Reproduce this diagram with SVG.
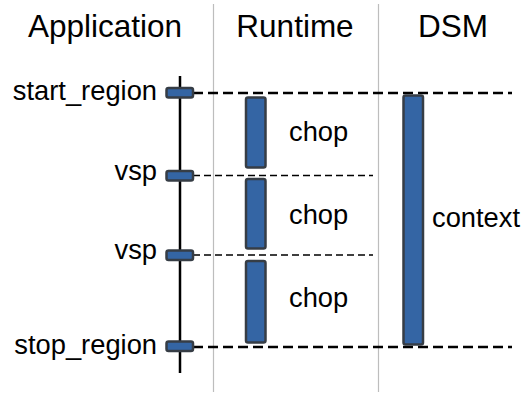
<svg xmlns="http://www.w3.org/2000/svg" width="526" height="394" viewBox="0 0 526 394">
  <style>
    text { font-family: "Liberation Sans", Arial, Helvetica, sans-serif; fill: #000; }
    .head { font-size: 31.5px; text-anchor: middle; }
    .lbl { font-size: 27.3px; }
    .end { text-anchor: end; }
    .sep { stroke: #bdbdbd; stroke-width: 1.2; fill: none; }
    .life { stroke: #000; stroke-width: 2.5; fill: none; }
    .act { fill: #3465a4; stroke: #363d45; stroke-width: 2.5; }
    .dash-major { stroke: #000; stroke-width: 2.6; stroke-dasharray: 10 5; fill: none; }
    .dash-minor { stroke: #000; stroke-width: 1.5; stroke-dasharray: 7 4; fill: none; }
  </style>

  <!-- column separators -->
  <g id="separators">
    <line class="sep" x1="213.5" y1="4" x2="213.5" y2="392"/>
    <line class="sep" x1="378.5" y1="4" x2="378.5" y2="392"/>
  </g>

  <!-- column headings -->
  <g id="headings">
    <text class="head" x="105" y="37">Application</text>
    <text class="head" x="295" y="37">Runtime</text>
    <text class="head" x="453" y="37">DSM</text>
  </g>

  <!-- dashed connectors -->
  <g id="connectors">
    <line class="dash-major" x1="193" y1="93" x2="512" y2="93"/>
    <line class="dash-minor" x1="193" y1="175.5" x2="373" y2="175.5"/>
    <line class="dash-minor" x1="193" y1="255" x2="373" y2="255"/>
    <line class="dash-major" x1="193" y1="347" x2="512" y2="347"/>
  </g>

  <!-- application lifeline and its calls -->
  <g id="application">
    <line class="life" x1="180" y1="76" x2="180" y2="373"/>
  </g>
  <g id="start_region">
    <rect class="act" x="166.5" y="88" width="26.5" height="9.5" rx="2"/>
    <text class="lbl end" x="157" y="100">start_region</text>
  </g>
  <g id="vsp1">
    <rect class="act" x="166.5" y="171" width="26.5" height="9.5" rx="2"/>
    <text class="lbl end" x="157" y="180">vsp</text>
  </g>
  <g id="vsp2">
    <rect class="act" x="166.5" y="250.5" width="26.5" height="9.5" rx="2"/>
    <text class="lbl end" x="157" y="259">vsp</text>
  </g>
  <g id="stop_region">
    <rect class="act" x="166.5" y="341.5" width="26.5" height="9.5" rx="2"/>
    <text class="lbl end" x="157" y="354">stop_region</text>
  </g>

  <!-- runtime chops -->
  <g id="chop1">
    <rect class="act" x="246" y="97.5" width="19.5" height="70" rx="2"/>
    <text class="lbl" x="289" y="141">chop</text>
  </g>
  <g id="chop2">
    <rect class="act" x="246" y="179" width="19.5" height="69.5" rx="2"/>
    <text class="lbl" x="289" y="224">chop</text>
  </g>
  <g id="chop3">
    <rect class="act" x="246" y="261" width="19.5" height="81.5" rx="2"/>
    <text class="lbl" x="289" y="307">chop</text>
  </g>

  <!-- DSM context -->
  <g id="context">
    <rect class="act" x="403.5" y="95.5" width="19.5" height="249" rx="2"/>
    <text class="lbl" x="432" y="227">context</text>
  </g>
</svg>
